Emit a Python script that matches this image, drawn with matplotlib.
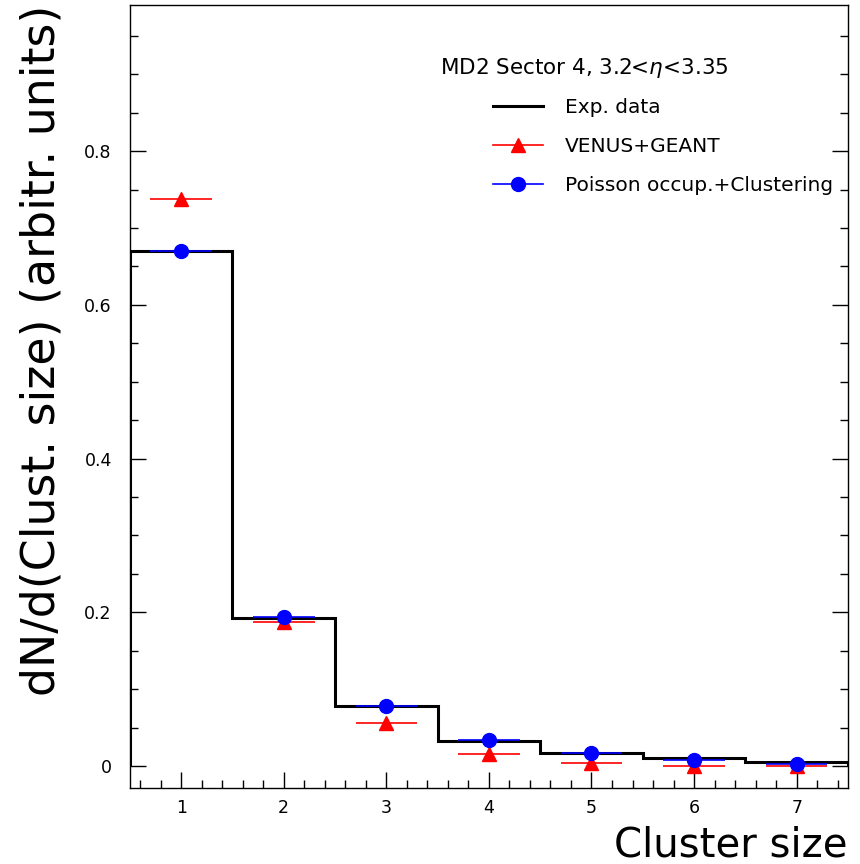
import matplotlib.pyplot as plt
from matplotlib.lines import Line2D
import numpy as np

# cluster size bins
cluster_size = [1, 2, 3, 4, 5, 6, 7]
exp_data = [0.670, 0.192, 0.078, 0.032, 0.0165, 0.010, 0.005]
venus_geant = [0.738, 0.188, 0.0555, 0.0152, 0.0043, 0.0, 0.0]
poisson_clust = [0.670, 0.194, 0.078, 0.0338, 0.0165, 0.0078, 0.0026]

plt.rcParams['font.family'] = ['DejaVu Sans']

fig = plt.figure(figsize=(8.6, 8.64), dpi=100)
ax = fig.add_axes([0.151, 0.088, 0.835, 0.906])

# histogram of experimental data
edges = np.arange(0.5, 8.0, 1.0)
ax.stairs(exp_data, edges, color='black', lw=2.2, zorder=3)

ax.errorbar(cluster_size, venus_geant, xerr=0.3, fmt='^', color='red',
            ms=10, elinewidth=1.2, capsize=0, zorder=4)
ax.errorbar(cluster_size, poisson_clust, xerr=0.3, fmt='o', color='blue',
            ms=10, elinewidth=1.2, capsize=0, zorder=5)

ax.set_xlim(0.5, 7.5)
ax.set_ylim(-0.0286, 0.99)
ax.set_xticks(cluster_size)
ax.set_xticks(np.arange(0.6, 7.5, 0.2), minor=True)
ax.set_yticks([0, 0.2, 0.4, 0.6, 0.8])
ax.set_yticklabels(['0', '0.2', '0.4', '0.6', '0.8'])
ax.set_yticks(np.arange(0, 0.99, 0.05), minor=True)
ax.tick_params(which='both', direction='in', right=True, top=False,
               labelsize=12.5, width=1)
ax.tick_params(which='major', length=11.5)
ax.tick_params(which='minor', length=6)
ax.tick_params(axis='y', pad=13)
ax.tick_params(axis='x', pad=8)
for s in ax.spines.values():
    s.set_linewidth(1.0)

ax.set_xlabel('Cluster size', fontsize=29, loc='right', labelpad=6)
ax.set_ylabel('dN/d(Clust. size) (arbitr. units)', fontsize=33, loc='top',
              labelpad=14)

ax.text(0.432, 0.912, r'MD2 Sector 4, 3.2<$\eta$<3.35', transform=ax.transAxes,
        fontsize=15.5)
handles = [Line2D([], [], color='black', lw=2.2),
           Line2D([], [], color='red', lw=1.2, marker='^', ms=10),
           Line2D([], [], color='blue', lw=1.2, marker='o', ms=10)]
labels = ['Exp. data', 'VENUS+GEANT', 'Poisson occup.+Clustering']
ax.legend(handles, labels, loc='upper left', bbox_to_anchor=(0.48, 0.905),
          frameon=False, fontsize=14.5, handlelength=2.5, labelspacing=1.0,
          handletextpad=1.1)

fig.savefig('out.png', dpi=100)
